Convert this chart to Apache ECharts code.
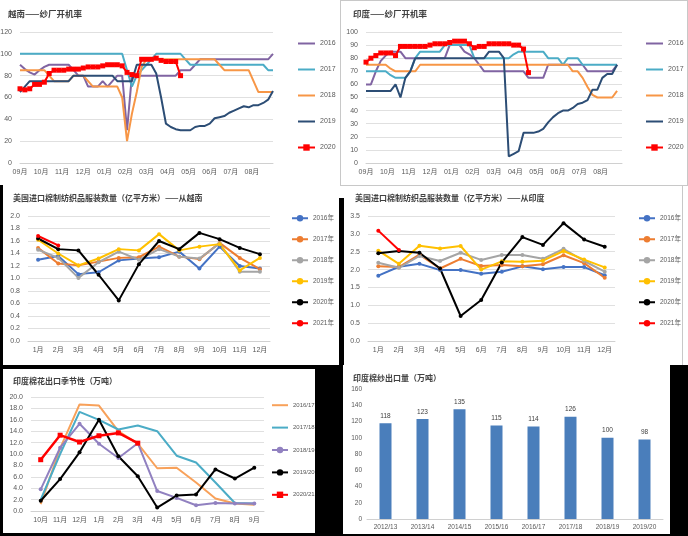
<!DOCTYPE html>
<html><head><meta charset="utf-8">
<script src="https://cdn.jsdelivr.net/npm/echarts@6/dist/echarts.min.js"></script>
<style>
html,body{margin:0;padding:0;background:#fff;}
#wrap{position:relative;width:688px;height:536px;overflow:hidden;background:#fff;}
.abs{position:absolute;}
</style></head><body>
<div id="wrap">
 <div class="abs" style="left:0;top:365px;width:688px;height:171px;background:#000"></div>
 <div class="abs" style="left:0;top:185px;width:3px;height:180px;background:#000"></div>
 <div class="abs" style="left:339px;top:198px;width:5px;height:167px;background:#000"></div>
 <div class="abs" style="left:3px;top:369px;width:312px;height:164px;background:#fff"></div>
 <div class="abs" style="left:343px;top:365px;width:327px;height:169px;background:#fff"></div>
 <div class="abs" style="left:340px;top:0;width:346px;height:184px;border:1px solid #c8c8c8"></div>
 <div class="abs" style="left:682px;top:185px;width:1px;height:180px;background:#c8c8c8"></div>
 <div id="c1" class="abs" style="left:0;top:0;width:340px;height:185px"></div>
 <div id="c2" class="abs" style="left:340px;top:0;width:348px;height:185px"></div>
 <div id="c3" class="abs" style="left:0;top:185px;width:340px;height:180px"></div>
 <div id="c4" class="abs" style="left:340px;top:185px;width:348px;height:180px"></div>
 <div id="c5" class="abs" style="left:0;top:365px;width:340px;height:171px"></div>
 <div id="c6" class="abs" style="left:340px;top:365px;width:348px;height:171px"></div>
</div>
<script>
// ---------- DATA ----------
const weekMonths = ['09月','10月','11月','12月','01月','02月','03月','04月','05月','06月','07月','08月'];
const seasonNames = ['2016','2017','2018','2019','2020'];

// Vietnam spinning mill operating rate (weekly, from September)
const vn2016 = [90,86,83,81,85,88,90,90,90,90,90,85,80,80,70,70,70,75,70,75,80,80,30,80,80,80,80,80,80,80,80,80,80,85,85,85,90,95,95,95,95,95,95,95,95,95,95,95,95,95,95,95,100];
const vn2017 = [100,100,100,100,100,100,100,100,100,100,100,100,100,100,100,100,100,100,100,100,100,100,85,70,80,85,90,95,100,100,100,100,100,100,95,90,90,90,90,90,90,90,90,90,90,90,90,90,90,90,90,85,85];
const vn2018 = [85,85,85,85,85,85,80,75,75,75,75,80,80,80,75,70,70,70,70,70,70,60,20,45,65,88,95,95,95,95,95,95,95,95,95,95,95,95,95,95,95,90,85,85,85,85,85,85,75,65,65,65,65];
const vn2019 = [65,70,75,75,75,75,75,75,75,75,75,80,80,80,80,80,80,80,80,80,75,75,75,75,90,90,90,90,82,60,36,33,31,30,30,30,33,34,34,36,41,42,43,46,48,50,52,51,53,53,55,58,66];
const vn2020 = [68,67,68,72,72,74,82,85,85,85,86,86,86,87,88,88,88,89,90,90,90,89,83,81,80,95,95,95,96,94,93,93,93,80];

// India spinning mill operating rate (weekly, from September)
const in2016 = [60,60,70,78,82,85,85,85,80,80,80,80,80,80,80,80,80,90,90,90,85,83,80,75,70,70,70,70,70,70,70,70,70,65,65,65,65,75,75,75,75,75,75,75,75,70,70,70,70,70,70,75];
const in2017 = [70,70,70,70,70,67,65,65,65,70,80,85,85,85,85,85,90,90,90,90,90,90,80,80,80,80,80,80,80,80,83,85,85,85,85,85,85,80,80,80,75,80,80,80,75,75,75,75,75,75,75,75];
const in2018 = [75,75,75,75,75,72,70,70,70,70,70,75,75,75,75,75,75,75,75,75,75,75,75,75,75,75,75,75,75,75,75,75,75,75,75,75,75,75,75,75,75,75,70,70,65,58,52,50,50,50,50,55];
const in2019 = [55,55,55,55,55,55,60,50,65,70,80,80,80,80,80,80,80,80,80,80,80,80,80,80,80,85,85,85,80,5,7,9,23,23,23,24,26,31,35,38,40,40,42,45,46,48,56,56,65,68,68,75];
const in2020 = [77,80,82,84,84,84,82,89,89,89,89,89,89,90,91,91,91,92,93,93,93,91,88,89,89,91,91,91,91,91,90,90,87,69];

// US imports of cotton textiles & apparel (100M sq m)
const monthCats = ['1月','2月','3月','4月','5月','6月','7月','8月','9月','10月','11月','12月'];
const usNames = ['2016年','2017年','2018年','2019年','2020年','2021年'];
const usVn = [
  [1.30,1.36,1.07,1.10,1.29,1.32,1.34,1.43,1.16,1.51,1.20,1.16],
  [1.49,1.24,1.21,1.27,1.33,1.34,1.51,1.35,1.31,1.57,1.33,1.15],
  [1.46,1.33,1.01,1.26,1.43,1.30,1.47,1.35,1.32,1.56,1.11,1.11],
  [1.62,1.40,1.21,1.32,1.47,1.45,1.71,1.45,1.51,1.55,1.13,1.33],
  [1.64,1.47,1.45,1.06,0.65,1.23,1.60,1.47,1.73,1.63,1.49,1.39],
  [1.68,1.53]
];
const usIn = [
  [1.83,2.08,2.16,1.99,1.99,1.88,1.94,2.09,2.01,2.07,2.07,1.84],
  [2.09,2.07,2.42,2.03,2.30,2.10,2.13,2.09,2.15,2.40,2.18,1.77],
  [2.19,2.05,2.38,2.24,2.47,2.27,2.41,2.41,2.30,2.58,2.24,1.94],
  [2.53,2.16,2.67,2.59,2.66,2.00,2.23,2.22,2.25,2.52,2.28,2.06],
  [2.46,2.52,2.47,2.03,0.70,1.15,2.20,2.91,2.69,3.30,2.84,2.64],
  [3.09,2.55]
];

// India cotton export seasonality (10k t)
const seasonCats = ['10月','11月','12月','1月','2月','3月','4月','5月','6月','7月','8月','9月'];
const cottonNames = ['2016/17','2017/18','2018/19','2019/20','2020/21'];
const cotton1617 = [1.2,11.0,18.7,18.5,14.0,11.8,7.5,7.6,5.0,2.2,1.3,1.1];
const cotton1718 = [2.0,10.0,17.4,16.0,14.3,15.0,14.0,9.7,8.5,5.0,1.4,1.3];
const cotton1819 = [3.8,11.1,15.3,11.8,9.3,11.9,3.5,2.3,1.0,1.4,1.3,1.3];
const cotton1920 = [1.8,5.6,10.3,16.0,9.6,6.1,0.6,2.7,2.9,7.3,5.7,7.6];
const cotton2021 = [9.0,13.3,12.1,13.2,13.7,11.9];

// India cotton yarn exports (10k t)
const yarnCats = ['2012/13','2013/14','2014/15','2015/16','2016/17','2017/18','2018/19','2019/20'];
const yarnVals = [118,123,135,115,114,126,100,98];

// ---------- STYLE ----------
const FF = "'Liberation Sans','Noto Sans CJK SC',sans-serif";
const TF = "'Noto Sans CJK SC',sans-serif";
const LBL = {color:'#595959', fontSize:7, fontFamily:FF};
const GRID_LINE = {lineStyle:{color:'#e0e0e0', width:1}};
const AX_LINE = {lineStyle:{color:'#d0d0d0'}};
const weekly = arr => arr.map((v,i) => [i*12/52, v]);
const mk = id => echarts.init(document.getElementById(id), null, {renderer:'canvas'});
function titleOf(t, left, top, fs){ return {text:t, left:left, top:top, padding:0, textStyle:{fontSize:fs, fontWeight:'bold', color:'#404040', fontFamily:TF}}; }
function legendData(names, markerFlags){
  return names.map((n,i) => markerFlags[i] ? {name:n} : {name:n, itemStyle:{opacity:0}});
}

// ---------- Chart 1 & 2: mill operating rates ----------
const millColors = ['#8064A2','#4BACC6','#F79646','#2C4D75','#FF0000'];
function millOption(title, data, yMax, yInt, grid, legendLeft){
  return {
    animation:false,
    title: titleOf(title, grid.tl, 10, 8.5),
    grid:{left:grid.left, right:grid.right, top:32, bottom:22, outerBoundsMode:'none', containLabel:false},
    legend:{orient:'vertical', left:legendLeft, top:40, padding:0, itemGap:19, itemWidth:17, itemHeight:8,
      textStyle:{fontSize:7, color:'#595959', fontFamily:FF},
      data:legendData(seasonNames,[false,false,false,false,true])},
    xAxis:{type:'value', min:0, max:12, interval:1,
      axisLabel:Object.assign({}, LBL, {margin:6, formatter: v => weekMonths[v] || ''}),
      axisLine:AX_LINE, axisTick:{show:false}, splitLine:{show:false}},
    yAxis:{type:'value', min:0, max:yMax, interval:yInt, axisLabel:Object.assign({}, LBL, {margin:8}),
      axisLine:{show:false}, axisTick:{show:false}, splitLine:GRID_LINE},
    series: data.map((d,i) => ({
      name: seasonNames[i], type:'line', data: weekly(d), color: millColors[i],
      lineStyle:{width:2}, symbol: i===4 ? 'rect' : 'none', symbolSize:5, showSymbol: i===4,
      itemStyle:{color: millColors[i]}
    }))
  };
}
mk('c1').setOption(millOption('越南——纱厂开机率', [vn2016,vn2017,vn2018,vn2019,vn2020], 120, 20, {left:20, right:67, tl:8}, 297));
mk('c2').setOption(millOption('印度——纱厂开机率', [in2016,in2017,in2018,in2019,in2020], 100, 10, {left:26, right:66, tl:13}, 305));

// ---------- Chart 3 & 4: US imports ----------
const usColors = ['#4472C4','#ED7D31','#A5A5A5','#FFC000','#000000','#FF0000'];
function usOption(title, data, yMax, yInt, grid, legendLeft){
  return {
    animation:false,
    title: titleOf(title, grid.tl, 9, 8),
    grid:{left:grid.left, right:grid.right, top:31, bottom:24, outerBoundsMode:'none', containLabel:false},
    legend:{orient:'vertical', left:legendLeft, top:30, padding:0, itemGap:14.5, itemWidth:16, itemHeight:8,
      textStyle:{fontSize:6.5, color:'#595959', fontFamily:FF}, data:usNames},
    xAxis:{type:'category', data:monthCats, boundaryGap:true,
      axisLabel:Object.assign({}, LBL, {margin:6}), axisLine:AX_LINE, axisTick:{show:false}},
    yAxis:{type:'value', min:0, max:yMax, interval:yInt,
      axisLabel:Object.assign({}, LBL, {margin:8, formatter: v => v.toFixed(1)}),
      axisLine:{show:false}, axisTick:{show:false}, splitLine:GRID_LINE},
    series: data.map((d,i) => ({
      name: usNames[i], type:'line', data:d, color: usColors[i],
      lineStyle:{width:2}, symbol:'circle', symbolSize:4, itemStyle:{color: usColors[i]}
    }))
  };
}
mk('c3').setOption(usOption('美国进口棉制纺织品服装数量（亿平方米）——从越南', usVn, 2.0, 0.2, {left:28, right:70, tl:13}, 291));
mk('c4').setOption(usOption('美国进口棉制纺织品服装数量（亿平方米）——从印度', usIn, 3.5, 0.5, {left:28, right:73, tl:15}, 298));

// ---------- Chart 5: cotton export seasonality ----------
const cottonColors = ['#F8A15A','#4BACC6','#9181C0','#000000','#FF0000'];
const cottonData = [cotton1617, cotton1718, cotton1819, cotton1920, cotton2021];
mk('c5').setOption({
  animation:false,
  title: titleOf('印度棉花出口季节性（万吨）', 13, 12, 8),
  grid:{left:31, right:76, top:32, bottom:25, outerBoundsMode:'none', containLabel:false},
  legend:{orient:'vertical', left:271, top:37, padding:0, itemGap:16, itemWidth:16, itemHeight:8,
    textStyle:{fontSize:6, color:'#595959', fontFamily:FF},
    data:legendData(cottonNames,[false,false,true,true,true])},
  xAxis:{type:'category', data:seasonCats, boundaryGap:true,
    axisLabel:Object.assign({}, LBL, {margin:6}), axisLine:AX_LINE, axisTick:{show:false}},
  yAxis:{type:'value', min:0, max:20, interval:2,
    axisLabel:Object.assign({}, LBL, {margin:8, formatter: v => v.toFixed(1)}),
    axisLine:{show:false}, axisTick:{show:false}, splitLine:GRID_LINE},
  series: cottonData.map((d,i) => ({
    name: cottonNames[i], type:'line', data:d, color: cottonColors[i],
    lineStyle:{width: i===4 ? 2.5 : 2}, symbol: i<2 ? 'none' : (i===4 ? 'rect' : 'circle'),
    symbolSize: i===4 ? 5 : 4, showSymbol: i>=2, itemStyle:{color: cottonColors[i]}
  }))
});

// ---------- Chart 6: yarn exports ----------
mk('c6').setOption({
  animation:false,
  title: titleOf('印度棉纱出口量（万吨）', 13, 9, 8),
  grid:{left:27, right:25, top:24, bottom:17, outerBoundsMode:'none', containLabel:false},
  xAxis:{type:'category', data:yarnCats, boundaryGap:true,
    axisLabel:Object.assign({}, LBL, {fontSize:6.5, margin:5, interval:0}), axisLine:AX_LINE, axisTick:{show:false}},
  yAxis:{type:'value', min:0, max:160, interval:20,
    axisLabel:Object.assign({}, LBL, {fontSize:6.5, margin:5}),
    axisLine:{show:false}, axisTick:{show:false}, splitLine:{show:false}},
  series:[{type:'bar', data:yarnVals, barWidth:12, itemStyle:{color:'#4A7EBB'},
    label:{show:true, position:'top', fontSize:6.5, color:'#404040', fontFamily:FF, distance:4}}]
});
</script>
</body></html>
